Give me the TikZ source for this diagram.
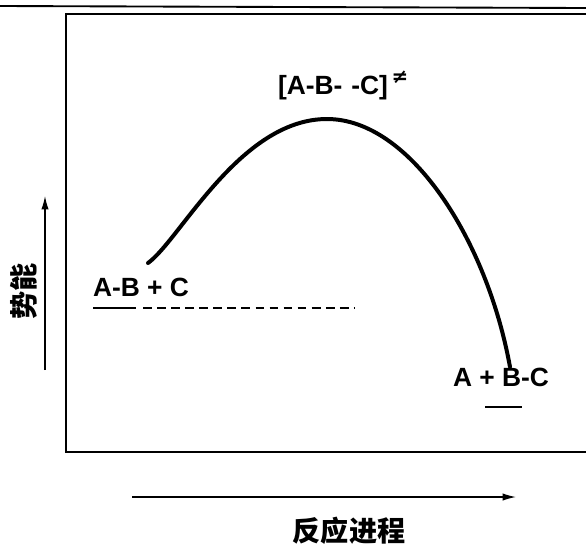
\documentclass[tikz,border=0pt]{standalone}
\usepackage{fontspec}
\setmainfont{Liberation Sans}
\newfontfamily\cjk{Noto Sans CJK SC}
\newfontfamily\symfont{DejaVu Sans}
\usetikzlibrary{positioning,arrows.meta}

\tikzset{
	species/.style={font=\fontsize{22.5}{26}\selectfont\bfseries, inner sep=0pt},
	axislabel/.style={font=\cjk\fontsize{24}{28}\selectfont\bfseries, inner sep=0pt},
	axisarrow/.style={line width=1.1pt, -{Latex[length=4mm,width=2.2mm]}},
	level/.style={line width=1.4pt}
}

\begin{document}
\begin{tikzpicture}[x=0.03cm, y=-0.03cm]
	\useasboundingbox (0,0) rectangle (586,546);
	% frame
	\draw[line width=1.6pt] (0,6) -- (586,8);
	\draw[line width=2pt] (586,14) -- (66,14) -- (66,452) -- (586,452);
	% energy curve
	\coordinate (R) at (148,263);
	\coordinate (TS) at (327,119);
	\coordinate (P) at (510,367);
	\draw[line width=3.4pt, line cap=round] (R) .. controls (180,240) and (240,119) .. (TS)
		.. controls (410,119) and (487,240) .. (P);
	% species
	\node[species] (react) at (141,287) {A-B + C};
	\node[species] (ts) at (333,88) {[A-B-\,\,-C]};
	\node[font=\symfont\fontsize{17}{20}\selectfont\bfseries, inner sep=0pt] (ne) at (400,77) {≠};
	\node[species] (prod) at (501,377) {A + B-C};
	% levels
	\coordinate (r1) at (93,308);
	\coordinate (r2) at (136,308);
	\coordinate (r3) at (354,308);
	\draw[level] (r1) -- (r2);
	\draw[level, dash pattern=on 7.5pt off 4.5pt] ([xshift=6pt]r2) -- (r3);
	\coordinate (p1) at (485,407);
	\coordinate (p2) at (522,407);
	\draw[level] (p1) -- (p2);
	% axes
	\coordinate (y0) at (45,370);
	\coordinate (y1) at (45,196);
	\draw[axisarrow] (y0) -- (y1);
	\node[axislabel, rotate=90] (ylab) at (24,291) {势能};
	\coordinate (x0) at (132,497);
	\coordinate (x1) at (516,497);
	\draw[axisarrow] (x0) -- (x1);
	\node[axislabel] (xlab) at (349,531) {反应进程};
\end{tikzpicture}
\end{document}
